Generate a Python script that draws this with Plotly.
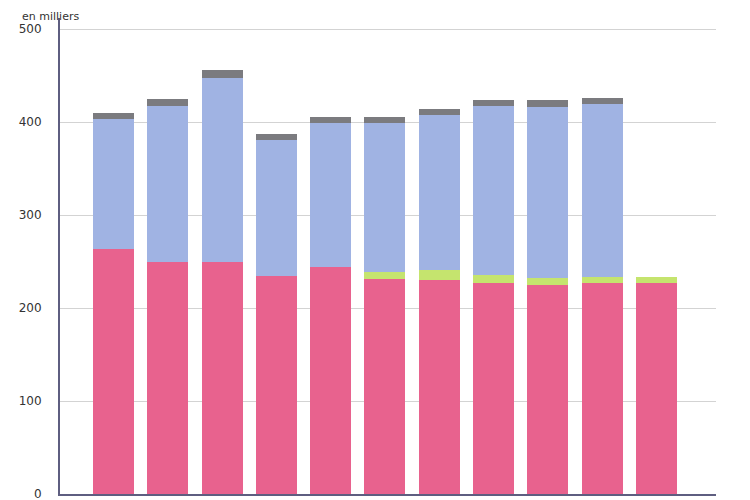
import plotly.graph_objects as go

categories = ["1", "2", "3", "4", "5", "6", "7", "8", "9", "10", "11"]
pink = [263, 249.5, 249.5, 234.5, 244, 231, 230, 227, 225, 226.5, 227]
green = [0, 0, 0, 0, 0, 7.4, 11, 9, 7, 7.2, 6.7]
blue = [140, 168, 197.5, 146, 154.6, 161, 166.5, 181, 183.8, 185.7, 0]
gray = [7, 7.5, 9, 7, 7.4, 6.4, 6.5, 6.5, 8, 7, 0]
y_ticks = [0, 100, 200, 300, 400, 500]

fig = go.Figure()
for vals, col in [(pink, "#E8628E"), (green, "#C5E46E"), (blue, "#A0B3E3"), (gray, "#7B7B7F")]:
    fig.add_trace(go.Bar(x=categories, y=vals, marker=dict(color=col, line=dict(width=0)),
                         showlegend=False, hoverinfo="y"))

fig.update_layout(
    barmode="stack",
    bargap=0.245,
    width=750, height=500,
    margin=dict(l=52, r=42, t=10, b=14, autoexpand=False),
    plot_bgcolor="white", paper_bgcolor="white",
    font=dict(family="DejaVu Sans", size=11, color="#333333"),
    xaxis=dict(range=[-0.985, 11.1], showticklabels=False, showgrid=False,
               showline=True, linecolor="#5E5E80", linewidth=2, zeroline=False, ticks=""),
    yaxis=dict(range=[0, 512], tickvals=y_ticks, showgrid=True, gridcolor="#D3D3D3", gridwidth=1,
               showline=True, linecolor="#5E5E80", linewidth=2, zeroline=False,
               ticks="", ticklabelstandoff=14, tickfont=dict(size=12, color="#333333")),
    annotations=[dict(text="en milliers", xref="paper", yref="paper", x=-0.061, y=1.02,
                      xanchor="left", yanchor="top", showarrow=False,
                      font=dict(size=11, color="#333333"))],
)

fig.write_html("out.html")
